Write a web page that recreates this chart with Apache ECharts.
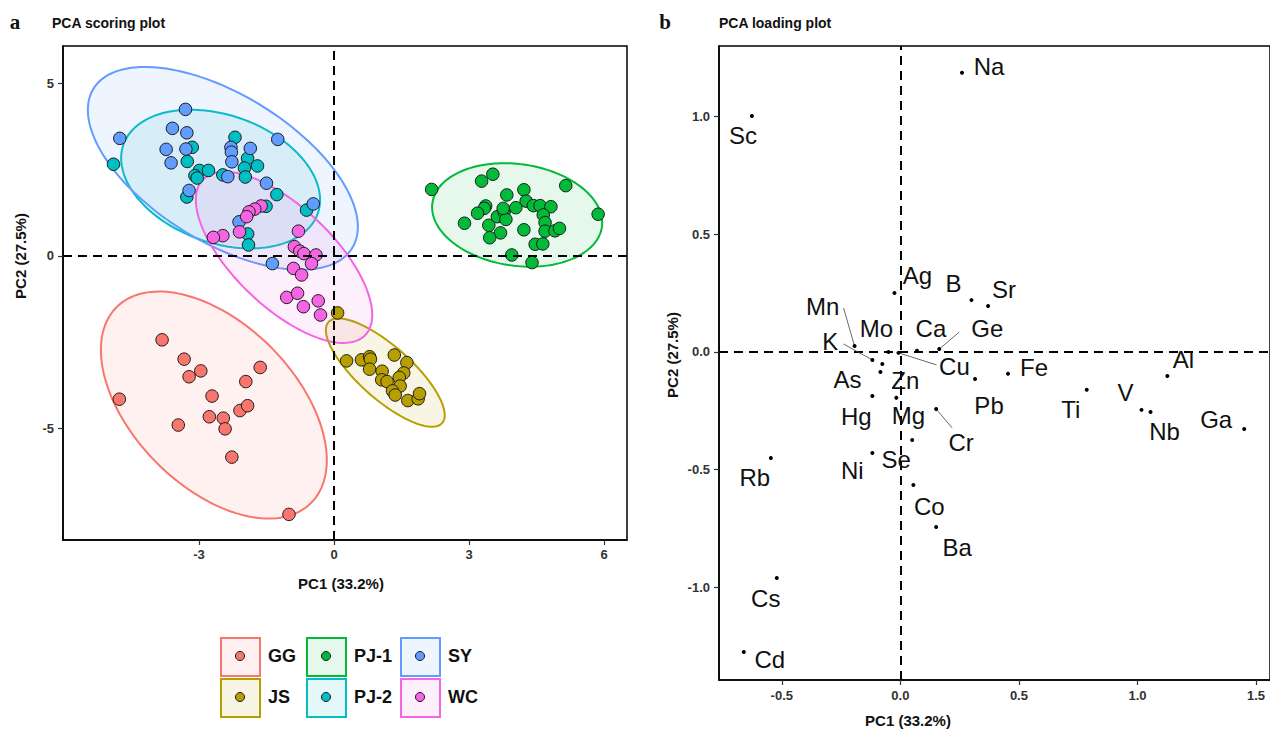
<!DOCTYPE html>
<html><head><meta charset="utf-8">
<script src="https://cdn.jsdelivr.net/npm/echarts@6/dist/echarts.min.js"></script>
<style>html,body{margin:0;padding:0;background:#fff}#c{width:1270px;height:732px}</style>
</head><body><div id="c"></div>
<script>
// ---------- DATA ----------
const groups = ['GG', 'JS', 'PJ-1', 'PJ-2', 'SY', 'WC'];
const groupColors = ['#F8766D', '#B79F00', '#00BA38', '#00BFC4', '#619CFF', '#F564E3'];

const ggScores = [[-3.82,-2.43],[-3.33,-2.99],[-2.96,-3.33],[-3.22,-3.50],[-1.64,-3.23],[-1.96,-3.64],[-4.77,-4.15],[-2.71,-4.06],[-2.09,-4.48],[-1.92,-4.34],[-2.77,-4.66],[-2.46,-4.70],[-2.42,-5.01],[-3.46,-4.90],[-2.27,-5.83],[-1.00,-7.49]];
const jsScores = [[0.08,-1.65],[0.28,-3.04],[0.61,-3.01],[0.79,-2.92],[0.81,-2.99],[0.79,-3.28],[1.34,-2.87],[1.62,-3.09],[1.55,-3.39],[1.07,-3.34],[1.06,-3.59],[1.18,-3.64],[1.45,-3.52],[1.47,-3.77],[1.30,-3.91],[1.36,-4.03],[1.64,-4.19],[1.87,-4.14],[1.90,-3.99]];
const pj1Scores = [[2.17,1.93],[3.28,2.17],[3.53,2.37],[5.15,2.04],[5.87,1.21],[3.84,1.77],[4.22,1.92],[4.27,1.59],[3.37,1.45],[3.34,1.38],[3.19,1.24],[2.90,0.95],[3.44,0.89],[3.63,1.14],[3.78,1.28],[3.82,1.06],[4.04,1.40],[4.43,1.46],[4.58,1.46],[4.82,1.43],[4.65,1.19],[4.69,0.97],[4.69,0.72],[4.91,0.73],[5.01,0.80],[4.22,0.76],[3.70,0.67],[3.46,0.53],[4.47,0.34],[4.64,0.35],[3.95,0.03],[4.40,-0.19],[3.76,1.38]];
const pj2Scores = [[-4.90,2.66],[-3.15,3.15],[-3.26,2.74],[-2.20,3.44],[-1.92,2.83],[-1.70,2.61],[-2.99,2.48],[-2.79,2.48],[-3.09,2.33],[-3.04,2.26],[-1.99,2.55],[-2.47,2.35],[-1.97,2.29],[-1.27,1.78],[-3.27,1.71],[-0.61,1.33],[-1.51,1.44],[-1.92,0.64],[-1.90,0.32]];
const syScores = [[-3.30,4.25],[-3.59,3.70],[-3.27,3.57],[-4.76,3.41],[-3.73,3.09],[-3.29,3.10],[-3.62,2.70],[-2.29,3.15],[-2.28,3.01],[-1.86,3.12],[-2.27,2.73],[-2.36,2.30],[-3.22,1.90],[-1.25,3.38],[-1.50,2.11],[-0.46,1.51],[-2.11,0.99],[-1.37,-0.22]];
const wcScores = [[-1.62,1.45],[-1.76,1.36],[-1.89,1.28],[-1.94,1.14],[-2.10,0.70],[-2.47,0.59],[-2.68,0.54],[-0.79,0.72],[-0.88,0.27],[-0.76,0.14],[-0.67,0.07],[-0.40,0.03],[-0.50,-0.22],[-0.90,-0.36],[-0.72,-0.55],[-1.05,-1.20],[-0.81,-1.08],[-0.68,-1.47],[-0.35,-1.30],[-0.30,-1.71]];

// confidence ellipses: [centre PC1, centre PC2, half-width, half-height, correlation]
const ggEllipse  = [-2.67, -4.32, 2.51, 3.29, -0.485];
const jsEllipse  = [ 1.14, -3.38, 1.32, 1.57, -0.784];
const pj1Ellipse = [ 4.07,  1.19, 1.89, 1.50, -0.15];
const pj2Ellipse = [-2.52,  2.23, 2.21, 2.01, -0.30];
const syEllipse  = [-2.47,  2.54, 3.00, 2.94, -0.576];
const wcEllipse  = [-1.11, -0.04, 1.96, 2.48, -0.673];

const elements    = ['Na','Sc','Ag','B','Sr','Mn','Mo','K','Ca','Ge','Cu','As','Zn','Hg','Mg','Pb','Fe','Cr','Ni','Se','Co','Ba','Rb','Cs','Cd','Al','Ti','V','Nb','Ga'];
const pc1Loadings = [0.26,-0.626,-0.025,0.30,0.37,-0.193,-0.05,-0.118,0.07,0.164,-0.008,-0.084,-0.076,-0.118,-0.017,0.315,0.454,0.151,-0.118,0.05,0.055,0.151,-0.546,-0.521,-0.66,1.126,0.786,1.017,1.055,1.45];
const pc2Loadings = [1.185,1.002,0.25,0.22,0.195,0.025,0.0,-0.034,0.005,0.012,-0.004,-0.085,-0.051,-0.187,-0.195,-0.115,-0.093,-0.242,-0.429,-0.374,-0.565,-0.743,-0.450,-0.960,-1.274,-0.102,-0.161,-0.246,-0.255,-0.327];

const scoreTicksX = [-3, 0, 3, 6];
const scoreTicksY = [-5, 0, 5];
const loadTicksX = [-0.5, 0, 0.5, 1.0, 1.5];
const loadTicksY = [-1.0, -0.5, 0, 0.5, 1.0];

// ---------- STYLE (label placement, pixels) ----------
const labelOffsets = [[27,-6],[-9,20],[23,-18],[-18,-17],[16,-17],[-32,-40],[-12,-23],[-42,-18],[14,-22],[48,-21],[56,14],[-33,8],[23,17],[-16,21],[12,18],[14,26],[26,-6],[25,34],[-20,18],[-16,19],[16,22],[21,21],[-16,20],[-11,20],[26,8],[16,-16],[-16,20],[-16,-17],[14,20],[-28,-9]];
const leaderEnds = {Mn:[-11,-38], K:[-29,-16], Ge:[20,-17], Cu:[38,12], Cr:[16,19]};

const scoreSets = [ggScores, jsScores, pj1Scores, pj2Scores, syScores, wcScores];
const ellipseSets = [ggEllipse, jsEllipse, pj1Ellipse, pj2Ellipse, syEllipse, wcEllipse];

function rgba(hex, a) {
  const n = parseInt(hex.slice(1), 16);
  return 'rgba(' + (n >> 16 & 255) + ',' + (n >> 8 & 255) + ',' + (n & 255) + ',' + a + ')';
}
const SANS = '"Liberation Sans", Arial, sans-serif';
const tickLabel = { fontFamily: SANS, fontWeight: 'bold', fontSize: 13, color: '#333' };

const chart = echarts.init(document.getElementById('c'), null, { renderer: 'svg' });

const series = [];
ellipseSets.forEach(function (e, gi) {
  const col = groupColors[gi];
  series.push({
    type: 'custom', xAxisIndex: 0, yAxisIndex: 0, z: 1, silent: true,
    data: [e],
    renderItem: function (p, api) {
      const cx = api.value(0), cy = api.value(1), W = api.value(2), H = api.value(3), r = api.value(4);
      const phi = Math.acos(r);
      const pts = [];
      for (let k = 0; k < 160; k++) {
        const t = 2 * Math.PI * k / 160;
        pts.push(api.coord([cx + W * Math.cos(t), cy + H * Math.cos(t - phi)]));
      }
      return { type: 'polygon', shape: { points: pts }, style: { fill: rgba(col, 0.1), stroke: col, lineWidth: 2 } };
    }
  });
});
scoreSets.forEach(function (s, gi) {
  series.push({
    type: 'scatter', name: groups[gi], xAxisIndex: 0, yAxisIndex: 0, z: 3,
    data: s, symbolSize: 12.5,
    itemStyle: { color: groupColors[gi], borderColor: '#1a1a1a', borderWidth: 1, opacity: 1 }
  });
});
const dashLine = { color: '#000', type: [9, 6], width: 2 };
series.push({
  type: 'scatter', xAxisIndex: 0, yAxisIndex: 0, data: [], z: 10, silent: true,
  markLine: { silent: true, symbol: 'none', label: { show: false }, lineStyle: dashLine, data: [{ xAxis: 0 }, { yAxis: 0 }] }
});
series.push({
  type: 'scatter', xAxisIndex: 1, yAxisIndex: 1, data: [], z: 2, silent: true,
  markLine: { silent: true, symbol: 'none', label: { show: false }, lineStyle: dashLine, data: [{ xAxis: 0 }, { yAxis: 0 }] }
});
series.push({
  type: 'custom', xAxisIndex: 1, yAxisIndex: 1, z: 5, silent: true,
  data: elements.map(function (n, i) { return [pc1Loadings[i], pc2Loadings[i]]; }),
  renderItem: function (params, api) {
    const i = params.dataIndex;
    const p = api.coord([api.value(0), api.value(1)]);
    const off = labelOffsets[i];
    const ch = [];
    const le = leaderEnds[elements[i]];
    if (le) ch.push({ type: 'line', shape: { x1: p[0], y1: p[1], x2: p[0] + le[0], y2: p[1] + le[1] }, style: { stroke: '#444', lineWidth: 0.8 } });
    ch.push({ type: 'circle', shape: { cx: p[0], cy: p[1], r: 2 }, style: { fill: '#000' } });
    ch.push({ type: 'text', x: p[0] + off[0], y: p[1] + off[1], style: { text: elements[i], fontSize: 24, fontFamily: SANS, fill: '#111', align: 'center', verticalAlign: 'middle' } });
    return { type: 'group', children: ch };
  }
});

// legend drawn from groups / colours
const legendColX = [220, 306, 400];
const legendRowY = [637, 678];
const graphics = [];
groups.forEach(function (g, i) {
  const x = legendColX[Math.floor(i / 2)], y = legendRowY[i % 2];
  graphics.push({ type: 'rect', left: x, top: y, shape: { width: 39, height: 38 }, style: { fill: rgba(groupColors[i], 0.1), stroke: groupColors[i], lineWidth: 2 } });
  graphics.push({ type: 'circle', x: x + 20, y: y + 19, shape: { cx: 0, cy: 0, r: 4.5 }, style: { fill: groupColors[i], stroke: '#1a1a1a', lineWidth: 1 } });
  graphics.push({ type: 'text', x: x + 48, y: y + 19, style: { text: g, fontFamily: SANS, fontWeight: 'bold', fontSize: 18, fill: '#111', align: 'left', verticalAlign: 'middle' } });
});
function txt(t, x, y, o) {
  return Object.assign({ type: 'text', x: x, y: y, style: Object.assign({ text: t, fontFamily: SANS, fontWeight: 'bold', fontSize: 15, fill: '#111', align: 'center', verticalAlign: 'middle' }, o || {}) });
}
graphics.push(txt('a', 15, 22, { fontFamily: '"Liberation Serif", "DejaVu Serif", serif', fontSize: 21 }));
graphics.push(txt('PCA scoring plot', 52, 23, { fontSize: 14, align: 'left' }));
graphics.push(txt('b', 665, 22, { fontFamily: '"Liberation Serif", "DejaVu Serif", serif', fontSize: 21 }));
graphics.push(txt('PCA loading plot', 719, 23, { fontSize: 14, align: 'left' }));
graphics.push(txt('PC1 (33.2%)', 341, 583));
graphics.push(txt('PC1 (33.2%)', 908, 720));
const g1 = txt('PC2 (27.5%)', 20, 256); g1.rotation = Math.PI / 2; graphics.push(g1);
const g2 = txt('PC2 (27.5%)', 672, 355); g2.rotation = Math.PI / 2; graphics.push(g2);

const axisLine = { show: true, onZero: false, lineStyle: { color: '#000', width: 1.5 } };
function fmt1(v) { return (Math.abs(v) < 1e-9 ? 0 : v).toFixed(1); }

chart.setOption({
  animation: false,
  backgroundColor: '#fff',
  grid: [
    { left: 63, top: 46, width: 564, height: 494, show: true, borderColor: '#000', borderWidth: 1.5, backgroundColor: 'transparent' },
    { left: 719, top: 46, width: 553, height: 634, show: true, borderColor: '#000', borderWidth: 1.5, backgroundColor: 'transparent' }
  ],
  xAxis: [
    { gridIndex: 0, type: 'value', min: -6.022, max: 6.511, axisLine: axisLine, splitLine: { show: false },
      axisTick: { show: true, length: 5, customValues: scoreTicksX, lineStyle: { color: '#333', width: 1.2 } },
      axisLabel: Object.assign({ customValues: scoreTicksX, margin: 8 }, tickLabel) },
    { gridIndex: 1, type: 'value', min: -0.7647, max: 1.5588, axisLine: axisLine, splitLine: { show: false },
      axisTick: { show: true, length: 5, customValues: loadTicksX, lineStyle: { color: '#333', width: 1.2 } },
      axisLabel: Object.assign({ customValues: loadTicksX, margin: 9, formatter: fmt1 }, tickLabel) }
  ],
  yAxis: [
    { gridIndex: 0, type: 'value', min: -8.232, max: 6.087, axisLine: axisLine, splitLine: { show: false },
      axisTick: { show: true, length: 5, customValues: scoreTicksY, lineStyle: { color: '#333', width: 1.2 } },
      axisLabel: Object.assign({ customValues: scoreTicksY, margin: 9 }, tickLabel) },
    { gridIndex: 1, type: 'value', min: -1.393, max: 1.299, axisLine: axisLine, splitLine: { show: false },
      axisTick: { show: true, length: 5, customValues: loadTicksY, lineStyle: { color: '#333', width: 1.2 } },
      axisLabel: Object.assign({ customValues: loadTicksY, margin: 9, formatter: fmt1 }, tickLabel) }
  ],
  series: series,
  graphic: graphics
});
</script></body></html>
